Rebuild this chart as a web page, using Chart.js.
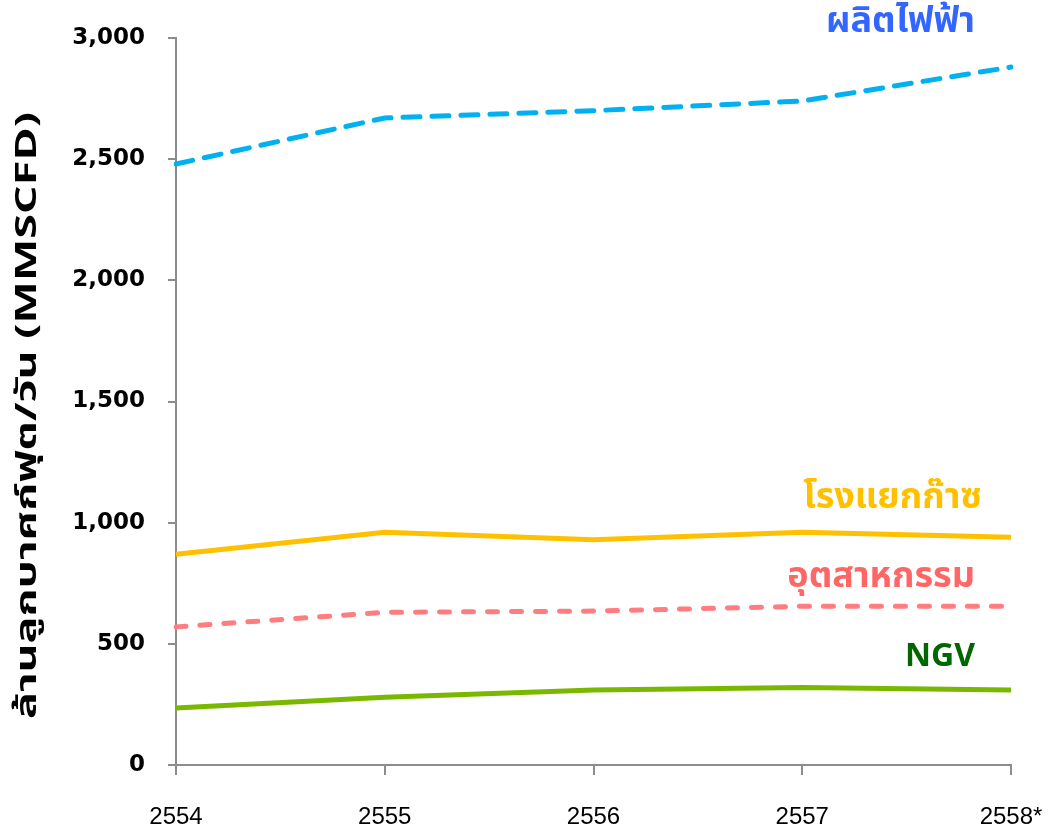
<!DOCTYPE html>
<html>
<head>
<meta charset="utf-8">
<script src="https://cdn.jsdelivr.net/npm/chart.js@4"></script>
<style>
  html, body { margin: 0; padding: 0; background: #fff; }
  #wrap { width: 1050px; height: 830px; position: relative; }
</style>
</head>
<body>
<div id="wrap"><canvas id="chart"></canvas></div>
<script>
// Data
const years = ["2554", "2555", "2556", "2557", "2558*"];
const power = [2480, 2670, 2700, 2740, 2880];
const gasPlant = [870, 960, 930, 960, 940];
const industry = [570, 630, 635, 655, 655];
const ngv = [235, 280, 310, 320, 310];
const yTicks = [0, 500, 1000, 1500, 2000, 2500, 3000];
const yTitle = "ล้านลูกบาศก์ฟุต/วัน (MMSCFD)";

const thaiFont = "'Noto Sans Thai', 'Noto Sans Thai UI', Tahoma, 'Noto Sans', 'DejaVu Sans', sans-serif";

// Series names drawn next to the right end of each line
const lineLabels = {
  id: "lineLabels",
  afterDatasetsDraw(chart) {
    const ctx = chart.ctx;
    const x = chart.scales.x;
    const y = chart.scales.y;
    const last = years.length - 1;
    ctx.save();
    ctx.textAlign = "right";
    ctx.textBaseline = "middle";
    chart.data.datasets.forEach((ds) => {
      const px = x.getPixelForValue(last) + ds.labelDx;
      const py = y.getPixelForValue(ds.data[last]) + ds.labelDy;
      ctx.font = "bold " + ds.labelSize + "px " + thaiFont;
      ctx.fillStyle = ds.labelColor;
      ctx.fillText(ds.label, px, py);
    });
    ctx.restore();
  },
};

// Rotated y axis title, stretched along its length like the original
const axisTitle = {
  id: "axisTitle",
  afterDraw(chart) {
    const ctx = chart.ctx;
    const area = chart.chartArea;
    ctx.save();
    ctx.translate(30, (area.top + area.bottom) / 2 + 14);
    ctx.rotate(-Math.PI / 2);
    ctx.scale(1.55, 1);
    ctx.font = "bold 29px " + thaiFont;
    ctx.fillStyle = "#000";
    ctx.textAlign = "center";
    ctx.textBaseline = "middle";
    ctx.fillText(yTitle, 0, 0);
    ctx.restore();
  },
};

new Chart(document.getElementById("chart"), {
  type: "line",
  data: {
    labels: years,
    datasets: [
      {
        label: "ผลิตไฟฟ้า",
        data: power,
        borderColor: "#00b0f0",
        borderWidth: 5,
        borderDash: [17, 12],
        borderCapStyle: "round",
        labelColor: "#3366ff",
        labelSize: 36,
        labelDx: -36,
        labelDy: -42,
      },
      {
        label: "โรงแยกก๊าซ",
        data: gasPlant,
        borderColor: "#ffc000",
        borderWidth: 5,
        labelColor: "#ffc000",
        labelSize: 36,
        labelDx: -29,
        labelDy: -36,
      },
      {
        label: "อุตสาหกรรม",
        data: industry,
        borderColor: "#ff7c80",
        borderWidth: 5,
        borderDash: [10, 14],
        borderCapStyle: "round",
        labelColor: "#ff6666",
        labelSize: 36,
        labelDx: -36,
        labelDy: -27,
      },
      {
        label: "NGV",
        data: ngv,
        borderColor: "#7ab800",
        borderWidth: 5,
        labelColor: "#006600",
        labelSize: 32,
        labelDx: -36,
        labelDy: -30,
      },
    ],
  },
  options: {
    responsive: true,
    maintainAspectRatio: false,
    animation: false,
    layout: { padding: { top: 38, right: 39, left: 0, bottom: 0 } },
    elements: { point: { radius: 0 }, line: { tension: 0 } },
    plugins: {
      legend: { display: false },
      tooltip: { enabled: false },
    },
    scales: {
      x: {
        offset: false,
        border: { color: "#8c8c8c", width: 2 },
        grid: { drawOnChartArea: false, tickLength: 10, color: "#8c8c8c", lineWidth: 2 },
        ticks: {
          color: "#000",
          padding: 28,
          maxRotation: 0,
          font: { family: "'Liberation Sans Narrow', 'Arial Narrow', 'Liberation Sans', sans-serif", size: 24 },
        },
        afterFit(axis) {
          axis.height = 65;
          axis.paddingLeft = 0;
          axis.paddingRight = 0;
        },
      },
      y: {
        min: 0,
        max: 3000,
        afterBuildTicks(axis) { axis.ticks = yTicks.map((v) => ({ value: v })); },
        border: { color: "#8c8c8c", width: 2 },
        grid: { drawOnChartArea: false, tickLength: 8, color: "#8c8c8c", lineWidth: 2 },
        ticks: {
          color: "#000",
          padding: 23,
          font: { family: "'DejaVu Sans', Verdana, sans-serif", size: 23, weight: "bold" },
          callback: (v) => v.toLocaleString("en-US"),
        },
        afterFit(axis) { axis.width = 176; },
      },
    },
  },
  plugins: [lineLabels, axisTitle],
});
</script>
</body>
</html>
